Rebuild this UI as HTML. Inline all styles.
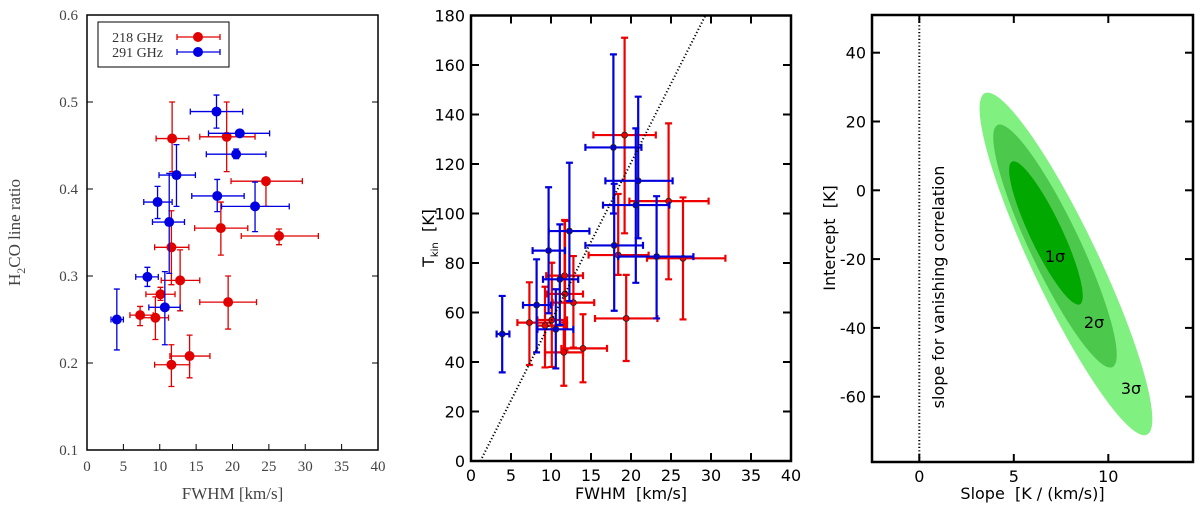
<!DOCTYPE html>
<html><head><meta charset="utf-8">
<style>
html,body{margin:0;padding:0;background:#fff;}
svg{display:block;}
</style></head>
<body>
<svg id="chart" width="1200" height="512" viewBox="0 0 1200 512" xmlns="http://www.w3.org/2000/svg">
<g id="p1"></g>
<g id="p2"></g>
<g id="p3"></g>
</svg>
<script>
// ---------- Panel 1 data: line ratio vs FWHM ----------
const p1RedX   = [11.7,19.2,24.6,18.4,26.4,11.6,12.8,10.1,7.3,9.4,19.4,14.1,11.6];
const p1RedY   = [0.458,0.46,0.409,0.355,0.346,0.333,0.295,0.279,0.255,0.252,0.27,0.208,0.198];
const p1RedXlo = [9.5,15.5,19.8,14.8,21.2,9.3,10.2,8.1,5.9,7.3,15.5,11.4,9.3];
const p1RedXhi = [14,23.1,29.6,22.1,31.8,14,15.5,12.1,9.1,11.2,23.3,16.9,14.1];
const p1RedYlo = [0.42,0.42,0.38,0.324,0.336,0.29,0.26,0.272,0.243,0.227,0.239,0.183,0.173];
const p1RedYhi = [0.5,0.5,0.409,0.385,0.354,0.375,0.33,0.287,0.265,0.276,0.3,0.232,0.221];
const p1BlueX   = [17.8,21,20.5,12.3,17.9,9.7,23.1,11.3,8.3,10.7,4.1];
const p1BlueY   = [0.489,0.464,0.44,0.416,0.392,0.385,0.38,0.362,0.299,0.264,0.25];
const p1BlueXlo = [14.2,16.7,16.4,9.9,14.4,7.8,18.5,9,6.7,8.5,3.3];
const p1BlueXhi = [21.4,25.1,24.6,14.9,21.6,11.7,27.8,13.4,9.8,12.8,5];
const p1BlueYlo = [0.47,0.46,0.435,0.38,0.374,0.366,0.351,0.303,0.288,0.221,0.215];
const p1BlueYhi = [0.508,0.466,0.446,0.451,0.411,0.403,0.408,0.418,0.31,0.305,0.285];
const p1XTicks = [0,5,10,15,20,25,30,35,40];
const p1YTicks = [0.1,0.2,0.3,0.4,0.5,0.6];

// ---------- Panel 2 data: Tkin vs FWHM ----------
const p2RedX   = [19.2,24.7,18.4,26.5,19.4,7.3,9.25,10.1,11.7,11.75,12.8,11.6,14.0];
const p2RedY   = [131.7,105,83.2,81.9,57.6,55.9,54.7,57,74.9,67.5,64,43.9,45.5];
const p2RedXlo = [15.3,19.8,14.7,22,15.5,5.8,8.3,8.3,9.4,9.5,10.2,9.25,11.3];
const p2RedXhi = [23.1,29.7,22.2,31.8,23.3,10,12,12,14,14,15.4,14,17];
const p2RedYlo = [92,73.4,75.2,57.2,40.4,38.8,37.8,38,56,44.8,45.8,30.4,31.8];
const p2RedYhi = [171,136.4,107.9,106.5,75.2,72.2,70.4,80.1,97.4,97,82.8,57,59.3];
const p2BlueX   = [17.8,20.9,20.6,17.9,23.2,3.9,8.2,9.7,10.6,11.1,12.3];
const p2BlueY   = [126.7,113.2,103.4,87.1,82.6,51.3,63,85,53.2,73.4,92.9];
const p2BlueXlo = [14.3,16.8,16.5,14.3,18.4,3.2,6.5,7.7,8.3,9,9.7];
const p2BlueXhi = [21.3,25.2,24.8,21.5,27.8,4.8,10,11.75,12.8,13.4,14.8];
const p2BlueYlo = [100,90,72,60.7,57.6,35.8,43.9,59.7,37.4,55,64.6];
const p2BlueYhi = [164.3,147.2,134.4,112,107,66.7,81.5,110.6,69.4,95.6,120.5];
const p2XTicks = [0,5,10,15,20,25,30,35,40];
const p2YTicks = [0,20,40,60,80,100,120,140,160,180];
const p2FitSlope = 6.4, p2FitIntercept = -7.5;

// ---------- Panel 3 data: confidence ellipses ----------
const p3Levels = ['3σ','2σ','1σ'];
const p3CenterSlope = [7.76,7.18,6.7];
const p3CenterIntercept = [-21.4,-16.2,-12.4];
const p3SemiMajor = [189,134,79];
const p3SemiMinor = [33,25,16];
const p3Colors = ['#80f080','#4cc84c','#00a800'];
const p3XTicks = [0,5,10];
const p3YTicks = [-60,-40,-20,0,20,40];

const NS='http://www.w3.org/2000/svg';
function mk(parent,tag,attrs,text){const e=document.createElementNS(NS,tag);for(const k in attrs)e.setAttribute(k,attrs[k]);if(text!==undefined)e.textContent=text;parent.appendChild(e);return e;}

// ===== Panel 1 =====
(function(){
  const g=document.getElementById('p1');
  const L=87,R=378,T=15,B=450;
  const xs=v=>L+(v-0)/40*(R-L), ys=v=>B-(v-0.1)/0.5*(B-T);
  const serif='"Liberation Serif", serif';
  const frame=mk(g,'rect',{x:L,y:T,width:R-L,height:B-T,fill:'none',stroke:'#000','stroke-width':1.5});
  
  
  p1XTicks.forEach(t=>{
    const x=xs(t);
    const tk=mk(g,'line',{x1:x,x2:x,y1:B,y2:B-6,stroke:'#000','stroke-width':1});
    
    
    const lb=mk(g,'text',{x:x,y:B+21,'text-anchor':'middle','font-family':serif,'font-size':15,fill:'#444'},String(t));
    
    
  });
  p1YTicks.forEach(t=>{
    const y=ys(t);
    [[L,L+6],[R,R-6]].forEach(p=>{const tk=mk(g,'line',{x1:p[0],x2:p[1],y1:y,y2:y,stroke:'#000','stroke-width':1});
      
      });
    const lb=mk(g,'text',{x:L-9,y:y+5,'text-anchor':'end','font-family':serif,'font-size':15,fill:'#444'},t.toFixed(1));
    
    
  });
  const xt=mk(g,'text',{x:(L+R)/2,y:499,'text-anchor':'middle','font-family':serif,'font-size':17,fill:'#444'},'FWHM [km/s]');
  
  
  const yt=mk(g,'text',{transform:'translate(20,'+((T+B)/2)+') rotate(-90)','text-anchor':'middle','font-family':serif,'font-size':17,fill:'#444'});
  
  
  mk(yt,'tspan',{},'H');mk(yt,'tspan',{'font-size':12,dy:5},'2');mk(yt,'tspan',{dy:-5},'CO line ratio');
  function series(X,Y,xlo,xhi,ylo,yhi,col,name){
    const sg=mk(g,'g',{});
    
    
    for(let i=0;i<X.length;i++){
      const x=xs(X[i]),y=ys(Y[i]),a=xs(xlo[i]),b=xs(xhi[i]),c=ys(ylo[i]),d=ys(yhi[i]);
      mk(sg,'path',{d:`M${a},${y}H${b}M${a},${y-3}V${y+3}M${b},${y-3}V${y+3}M${x},${c}V${d}M${x-3},${c}H${x+3}M${x-3},${d}H${x+3}`,stroke:col,'stroke-width':1.3,fill:'none'});
      const pt=mk(sg,'circle',{cx:x,cy:y,r:5,fill:col});
      
      
    }
  }
  series(p1RedX,p1RedY,p1RedXlo,p1RedXhi,p1RedYlo,p1RedYhi,'#e00000','series-218ghz');
  series(p1BlueX,p1BlueY,p1BlueXlo,p1BlueXhi,p1BlueYlo,p1BlueYhi,'#0000e0','series-291ghz');
  const lg=mk(g,'g',{});
  
  
  mk(lg,'rect',{x:98,y:22,width:131,height:45,fill:'#fff',stroke:'#000','stroke-width':1});
  [['218 GHz','#e00000',37],['291 GHz','#0000e0',52]].forEach(e=>{
    const en=mk(lg,'g',{});
    
    
    mk(en,'text',{x:163,y:e[2]+5,'text-anchor':'end','font-family':serif,'font-size':14,fill:'#333'},e[0]);
    mk(en,'path',{d:`M177,${e[2]}H220M177,${e[2]-3}V${e[2]+3}M220,${e[2]-3}V${e[2]+3}`,stroke:e[1],'stroke-width':1.3});
    mk(en,'circle',{cx:198,cy:e[2],r:5,fill:e[1]});
  });
})();

// ===== Panel 2 =====
(function(){
  const g=document.getElementById('p2');
  const L=471,R=791,T=15.5,B=461;
  const xs=v=>L+v/40*(R-L), ys=v=>B-v/180*(B-T);
  const sans='"DejaVu Sans", "Liberation Sans", sans-serif';
  const cp=mk(document.getElementById('chart'),'clipPath',{id:'c2'});
  mk(cp,'rect',{x:L,y:T,width:R-L,height:B-T});
  const dg=mk(g,'g',{'clip-path':'url(#c2)'});
  function series(X,Y,xlo,xhi,ylo,yhi,col,name){
    const sg=mk(dg,'g',{});
    
    
    for(let i=0;i<X.length;i++){
      const x=xs(X[i]),y=ys(Y[i]),a=xs(xlo[i]),b=xs(xhi[i]),c=ys(ylo[i]),d=ys(yhi[i]);
      mk(sg,'path',{d:`M${a},${y}H${b}M${a},${y-3.5}V${y+3.5}M${b},${y-3.5}V${y+3.5}M${x},${c}V${d}M${x-3.5},${c}H${x+3.5}M${x-3.5},${d}H${x+3.5}`,stroke:col,'stroke-width':2.2,fill:'none'});
      const pt=mk(sg,'circle',{cx:x,cy:y,r:3,fill:col,stroke:'#222','stroke-width':0.8});
      
      
    }
  }
  series(p2RedX,p2RedY,p2RedXlo,p2RedXhi,p2RedYlo,p2RedYhi,'#ee0000','red-series');
  series(p2BlueX,p2BlueY,p2BlueXlo,p2BlueXhi,p2BlueYlo,p2BlueYhi,'#0000dd','blue-series');
  const x0=-p2FitIntercept/p2FitSlope, x1=(180-p2FitIntercept)/p2FitSlope;
  const fit=mk(dg,'line',{x1:xs(x0),y1:ys(0),x2:xs(x1),y2:ys(180),stroke:'#000','stroke-width':2,'stroke-dasharray':'1.2,2.3'});
  
  
  const frame=mk(g,'rect',{x:L,y:T,width:R-L,height:B-T,fill:'none',stroke:'#000','stroke-width':2.5});
  
  
  p2XTicks.forEach(t=>{
    const x=xs(t);
    [[B,B-8],[T,T+8]].forEach(p=>{const tk=mk(g,'line',{x1:x,x2:x,y1:p[0],y2:p[1],stroke:'#000','stroke-width':2});
      
      });
    const lb=mk(g,'text',{x:x,y:B+20,'text-anchor':'middle','font-family':sans,'font-size':16,fill:'#000'},String(t));
    
    
  });
  p2YTicks.forEach(t=>{
    const y=ys(t);
    [[L,L+8],[R,R-8]].forEach(p=>{const tk=mk(g,'line',{x1:p[0],x2:p[1],y1:y,y2:y,stroke:'#000','stroke-width':2});
      
      });
    const lb=mk(g,'text',{x:L-6,y:y+6,'text-anchor':'end','font-family':sans,'font-size':16,fill:'#000'},String(t));
    
    
  });
  const xt=mk(g,'text',{x:(L+R)/2,y:499,'text-anchor':'middle','font-family':sans,'font-size':16,fill:'#000'},'FWHM\u00a0 [km/s]');
  
  
  const yt=mk(g,'text',{transform:'translate(434,238) rotate(-90)','text-anchor':'middle','font-family':sans,'font-size':16,fill:'#000'});
  
  
  mk(yt,'tspan',{},'T');mk(yt,'tspan',{'font-size':10,dy:4},'kin');mk(yt,'tspan',{dy:-4},'\u00a0 [K]');
})();

// ===== Panel 3 =====
(function(){
  const g=document.getElementById('p3');
  const L=872,R=1193,T=15,B=462;
  const xs=v=>919.3+v*18.9, ys=v=>190.3-v*3.44;
  const sans='"DejaVu Sans", "Liberation Sans", sans-serif';
  const angle=64.6;
  for(let i=0;i<p3Levels.length;i++){
    const e=mk(g,'ellipse',{cx:0,cy:0,rx:p3SemiMajor[i],ry:p3SemiMinor[i],fill:p3Colors[i],transform:`translate(${xs(p3CenterSlope[i])},${ys(p3CenterIntercept[i])}) rotate(${angle})`});
    
    
  }
  [['1σ',1055,262],['2σ',1094,328],['3σ',1131,394]].forEach(l=>{
    const t=mk(g,'text',{x:l[1],y:l[2],'text-anchor':'middle','font-family':sans,'font-size':16,fill:'#000'},l[0]);
    
    
  });
  const vl=mk(g,'line',{x1:xs(0),x2:xs(0),y1:T,y2:B,stroke:'#000','stroke-width':2,'stroke-dasharray':'1.2,2.2'});
  
  
  const vt=mk(g,'text',{transform:'translate(944,287) rotate(-90)','text-anchor':'middle','font-family':sans,'font-size':16,fill:'#000'},'slope for vanishing correlation');
  
  
  const frame=mk(g,'rect',{x:L,y:T,width:R-L,height:B-T,fill:'none',stroke:'#000','stroke-width':2.5});
  
  
  p3XTicks.forEach(t=>{
    const x=xs(t);
    [[B,B-8],[T,T+8]].forEach(p=>{const tk=mk(g,'line',{x1:x,x2:x,y1:p[0],y2:p[1],stroke:'#000','stroke-width':2});
      
      });
    const lb=mk(g,'text',{x:x,y:B+20,'text-anchor':'middle','font-family':sans,'font-size':16,fill:'#000'},String(t));
    
    
  });
  p3YTicks.forEach(t=>{
    const y=ys(t);
    [[L,L+8],[R,R-8]].forEach(p=>{const tk=mk(g,'line',{x1:p[0],x2:p[1],y1:y,y2:y,stroke:'#000','stroke-width':2});
      
      });
    const lb=mk(g,'text',{x:L-6,y:y+6,'text-anchor':'end','font-family':sans,'font-size':16,fill:'#000'},String(t));
    
    
  });
  const xt=mk(g,'text',{x:(L+R)/2,y:499,'text-anchor':'middle','font-family':sans,'font-size':16,fill:'#000'},'Slope\u00a0 [K / (km/s)]');
  
  
  const yt=mk(g,'text',{transform:'translate(835,238) rotate(-90)','text-anchor':'middle','font-family':sans,'font-size':16,fill:'#000'},'Intercept\u00a0 [K]');
  
  
})();
</script>
</body></html>
